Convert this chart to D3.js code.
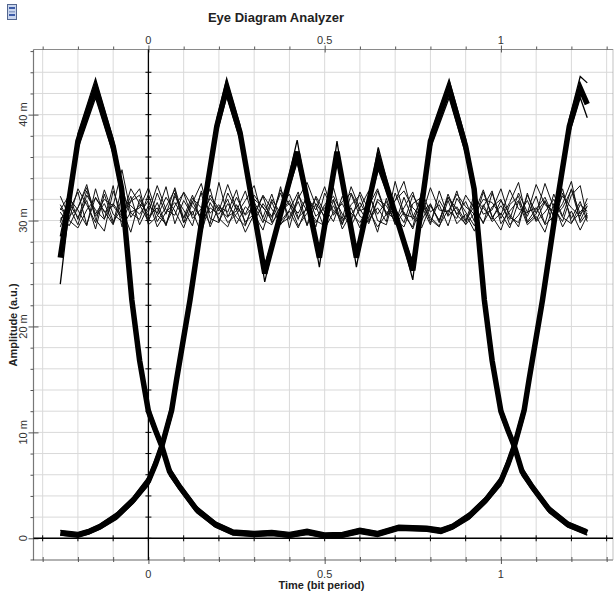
<!DOCTYPE html>
<html>
<head>
<meta charset="utf-8">
<title>Eye Diagram Analyzer</title>
<script src="https://d3js.org/d3.v7.min.js"></script>
<style>
    body { margin: 0; background: #fff; }
    svg { display: block; font-family: "Liberation Sans", Arial, sans-serif; }
    .axis path { display: none; }
    .axis line { stroke: #555; }
</style>
</head>
<body>
<svg id="chart" width="615" height="596"></svg>
<script>
// tick values and labels
const xTicks = [-0.3,-0.2,-0.1,0,0.1,0.2,0.3,0.4,0.5,0.6,0.7,0.8,0.9,1,1.1,1.2,1.3];
const xLabelVals = [0, 0.5, 1];
const xLabelText = ["0", "0.5", "1"];
const yTicks = [-2,0,2,4,6,8,10,12,14,16,18,20,22,24,26,28,30,32,34,36,38,40,42,44,46];
const yLabelVals = [0, 10, 20, 30, 40];
const yLabelText = ["0", "10 m", "20 m", "30 m", "40 m"];

// main eye traces (time in bit periods, amplitude in m a.u.)
const t1Time = [-0.25,-0.2,-0.17,-0.137,-0.09,-0.043,0,0.02,0.038,0.066,0.08,0.118,0.156,0.194,0.222,0.26,0.33,0.422,0.485,0.535,0.59,0.652,0.75,0.8,0.853,0.9,0.924,0.953,0.975,1.0,1.02,1.038,1.06,1.09,1.137,1.19,1.245];
const t1Amp  = [0.5,0.3,0.6,1.1,2.1,3.6,5.4,7.0,8.7,12.1,15,22.5,31,38.9,42.5,38.3,25,36.5,26.5,36.5,26.5,35.8,25.3,37.5,42.5,37,33,22.5,16.8,12,10.2,8.7,6.3,4.8,2.7,1.3,0.55];
const t1AmpB = [0.75,0.55,0.85,1.35,2.4,3.9,5.8,7.5,9.2,12.7,15.7,23.2,31.7,39.6,43.4,39.0,24.2,37.6,25.6,37.5,25.6,36.9,24.4,38.2,43.3,37.7,33.7,23.2,17.4,12.5,10.6,9.1,6.7,5.1,3.0,1.55,0.8];
const t1AmpC = [0.3,0.15,0.4,0.85,1.8,3.3,5.0,6.6,8.2,11.5,14.3,21.8,30.3,38.2,41.7,37.6,25.8,35.5,27.3,35.5,27.3,34.8,26.1,36.8,41.6,36.3,32.3,21.8,16.2,11.5,9.8,8.3,5.9,4.5,2.4,1.05,0.3];

const t2Time = [-0.25,-0.2,-0.15,-0.1,-0.076,-0.047,-0.025,0,0.02,0.038,0.06,0.09,0.137,0.19,0.24,0.3,0.35,0.4,0.45,0.5,0.55,0.6,0.65,0.71,0.79,0.83,0.863,0.91,0.957,1.0,1.02,1.038,1.066,1.08,1.118,1.156,1.194,1.225,1.245];
const t2Amp  = [26.5,37.5,42.5,37,33,22.5,16.8,12,10.2,8.7,6.3,4.8,2.7,1.3,0.55,0.4,0.5,0.3,0.6,0.25,0.3,0.7,0.4,1.0,0.9,0.7,1.1,2.1,3.6,5.4,7.0,8.7,12.1,15,22.5,31,38.9,42.5,41];
const t2AmpB = [24,38.2,43.4,37.7,33.7,23.2,17.4,12.5,10.6,9.1,6.7,5.1,3.0,1.55,0.8,0.65,0.75,0.55,0.85,0.5,0.55,0.95,0.65,1.25,1.15,0.95,1.35,2.4,3.9,5.8,7.5,9.2,12.7,15.7,23.2,31.7,39.6,43.6,43];
const t2AmpC = [28.5,36.8,41.6,36.3,32.3,21.8,16.2,11.5,9.8,8.3,5.9,4.5,2.4,1.05,0.3,0.15,0.25,0.1,0.35,0.05,0.1,0.45,0.15,0.75,0.65,0.45,0.85,1.8,3.3,5.0,6.6,8.2,11.5,14.3,21.8,30.3,38.2,41.6,39.7];

// sample times for the noisy middle-level traces
const noiseTime = [-0.25,-0.225,-0.2,-0.175,-0.15,-0.125,-0.1,-0.075,-0.05,-0.025,
    0,0.025,0.05,0.075,0.1,0.125,0.15,0.175,0.2,0.225,
    0.25,0.275,0.3,0.325,0.35,0.375,0.4,0.425,0.45,0.475,
    0.5,0.525,0.55,0.575,0.6,0.625,0.65,0.675,0.7,0.725,
    0.75,0.775,0.8,0.825,0.85,0.875,0.9,0.925,0.95,0.975,
    1,1.025,1.05,1.075,1.1,1.125,1.15,1.175,1.2,1.225,
    1.245];

const noise1 = [31.0,32.4,30.1,32.8,30.4,31.6,29.7,33.2,30.3,31.5,
    29.9,32.6,30.6,33.1,30.2,31.8,30.0,32.4,31.1,30.3,
    32.2,30.5,31.4,29.8,32.0,30.7,31.9,30.1,32.5,30.4,
    31.2,29.9,32.3,30.6,31.7,30.2,32.8,30.5,31.1,29.8,
    32.4,30.9,31.5,30.0,32.2,30.6,31.8,29.9,32.7,30.3,
    31.4,30.1,32.6,30.8,31.2,29.7,32.5,30.4,33.0,30.6,
    31.3];
const noise2 = [30.2,30.9,32.7,29.6,32.2,30.8,31.4,34.8,30.7,30.1,
    32.5,29.9,31.3,32.9,29.8,32.1,31.2,29.7,33.6,30.4,
    30.9,32.8,29.9,31.6,30.4,32.6,30.1,31.8,29.6,32.3,
    30.8,32.0,29.7,31.5,32.4,30.0,31.2,29.9,33.7,30.6,
    30.3,32.1,29.8,31.9,30.5,32.8,30.0,31.4,29.7,32.6,
    30.2,31.7,33.6,29.9,31.1,32.2,30.3,31.6,33.7,29.8,
    30.7];
const noise3 = [29.4,31.6,30.3,31.9,29.2,32.5,29.9,31.1,28.9,32.0,
    30.4,31.2,29.5,32.6,29.8,30.9,28.8,31.7,30.2,29.4,
    31.5,29.9,30.6,29.1,31.8,29.6,30.9,29.3,31.4,30.0,
    29.5,31.9,29.2,30.7,29.8,31.3,28.9,32.1,29.6,30.8,
    29.2,31.6,30.1,29.4,31.9,29.7,30.6,29.0,31.5,29.9,
    30.7,29.3,31.8,29.6,30.4,28.9,31.6,29.4,30.9,29.1,
    30.5];
const noise4 = [32.3,30.4,31.2,33.1,30.6,32.0,31.4,30.2,33.0,31.6,
    30.8,33.3,31.0,30.5,32.7,31.3,30.4,32.1,30.9,33.4,
    31.1,30.6,32.4,31.2,30.3,32.9,31.5,30.7,32.2,31.0,
    33.2,30.5,31.8,32.6,30.9,31.4,33.0,30.6,31.9,32.8,
    31.2,30.4,33.1,31.0,30.8,32.5,31.3,30.6,32.0,31.7,
    30.5,32.9,31.1,30.7,33.4,31.5,30.9,32.3,31.2,30.4,
    32.1];
const noise5 = [30.8,29.5,31.2,33.4,30.1,29.0,32.8,30.5,31.9,33.0,
    29.6,30.4,32.2,30.9,29.3,31.7,33.5,30.2,29.8,32.6,
    31.0,28.9,30.6,32.4,31.1,29.7,30.3,32.1,33.6,31.4,
    29.2,30.8,31.6,29.9,32.7,31.0,29.4,30.6,31.9,33.7,
    30.5,29.3,31.4,30.0,32.2,31.1,29.6,30.7,32.9,30.4,
    29.1,31.5,32.3,29.8,30.6,33.5,31.2,29.9,32.4,33.3,
    30.2];
const noise6 = [31.5,30.0,29.3,31.0,32.1,30.9,29.6,32.2,31.4,30.6,
    31.9,29.4,30.8,31.7,30.3,32.4,29.9,31.2,30.6,32.0,
    29.7,31.3,30.5,32.3,29.8,30.9,31.6,29.5,30.7,32.1,
    30.2,31.4,29.6,32.5,30.4,29.9,31.8,30.8,30.1,29.4,
    31.6,32.2,30.3,29.5,31.0,30.2,32.4,31.1,29.8,31.3,
    32.0,29.6,30.5,31.9,29.9,30.8,32.0,30.3,29.7,31.5,
    30.9];
const noise7 = [29.8,32.1,31.0,29.5,33.0,30.2,31.6,30.4,32.3,29.6,
    31.4,30.7,33.2,29.7,31.9,30.5,32.6,29.4,31.3,30.8,
    32.9,29.6,31.7,30.3,32.5,29.9,31.0,32.7,29.5,31.6,
    30.4,33.1,30.0,31.2,29.3,32.4,30.6,31.8,29.7,32.2,
    30.1,31.4,29.6,32.8,30.4,31.3,29.9,32.5,30.6,31.0,
    33.0,30.3,29.8,32.4,30.7,31.9,29.5,32.6,30.2,31.8,
    29.9];
const noise8 = [31.2,30.1,33.0,31.5,29.8,32.9,30.6,29.9,31.8,32.4,
    30.0,31.7,29.6,32.3,31.0,29.5,32.8,30.7,31.5,29.8,
    30.6,31.9,33.3,30.1,29.6,31.4,32.5,30.3,31.1,29.4,
    32.6,30.9,30.2,33.2,31.1,29.7,32.0,31.4,29.9,31.2,
    32.7,30.0,31.6,29.8,32.5,30.5,29.7,32.0,31.2,30.1,
    31.9,30.6,29.4,32.6,30.0,31.8,30.5,33.0,29.8,30.8,
    31.6];
const noise9 = [30.0,31.3,29.6,32.4,31.0,30.1,33.3,29.4,30.8,31.2,
    33.1,30.5,29.7,31.4,32.6,30.2,31.1,33.0,29.9,31.6,
    30.3,29.5,32.0,31.3,30.0,33.2,29.3,32.4,30.9,29.8,
    31.5,32.3,30.6,29.5,31.2,32.8,30.0,29.6,32.6,30.5,
    29.4,32.7,30.8,31.5,29.5,32.1,30.8,29.5,31.3,32.8,
    29.7,30.9,31.9,30.4,32.3,29.6,30.4,31.2,32.9,30.0,
    31.4];

const svg = d3.select("#chart");
const pLeft = 33.5, pRight = 613, pTop = 49.5, pBottom = 560;

const x = d3.scaleLinear().domain([-0.326, 1.318]).range([pLeft, pRight]);
const y = d3.scaleLinear().domain([-2.05, 46.15]).range([pBottom, pTop]);

const innerX = xTicks.filter(d => x(d) > pLeft + 2 && x(d) < pRight - 2);
const innerY = yTicks.filter(d => y(d) > pTop + 2 && y(d) < pBottom - 2);

// grid
svg.append("g").selectAll("line")
    .data(innerX)
    .enter().append("line")
    .attr("x1", d => x(d)).attr("x2", d => x(d))
    .attr("y1", pTop).attr("y2", pBottom)
    .attr("stroke", "#d9d9d9").attr("stroke-width", 1);
svg.append("g").selectAll("line")
    .data(innerY)
    .enter().append("line")
    .attr("x1", pLeft).attr("x2", pRight)
    .attr("y1", d => y(d)).attr("y2", d => y(d))
    .attr("stroke", "#d9d9d9").attr("stroke-width", 1);

// frame
svg.append("line").attr("x1", pLeft).attr("x2", pRight).attr("y1", pTop).attr("y2", pTop)
    .attr("stroke", "#8a8a8a").attr("stroke-width", 1.2);
svg.append("line").attr("x1", pLeft).attr("x2", pLeft).attr("y1", pTop).attr("y2", pBottom)
    .attr("stroke", "#777").attr("stroke-width", 1.2);
svg.append("line").attr("x1", pLeft).attr("x2", pRight).attr("y1", pBottom).attr("y2", pBottom)
    .attr("stroke", "#333").attr("stroke-width", 1.5).attr("stroke-dasharray", "1,1");
svg.append("line").attr("x1", pRight).attr("x2", pRight).attr("y1", pTop).attr("y2", pBottom)
    .attr("stroke", "#999").attr("stroke-width", 1.2).attr("stroke-dasharray", "1,1");

// axes
const isMajorX = d => xLabelVals.some(v => Math.abs(v - d) < 1e-9);
const isMajorY = d => yLabelVals.some(v => Math.abs(v - d) < 1e-9);

const topAxis = svg.append("g").attr("class", "axis")
    .attr("transform", `translate(0,${pTop})`)
    .call(d3.axisTop(x).tickValues(xTicks).tickSize(3).tickFormat(""));
topAxis.selectAll(".tick line").attr("y2", d => isMajorX(d) ? -4 : -3)
    .attr("y1", d => isMajorX(d) ? 3 : 0);

const bottomAxis = svg.append("g").attr("class", "axis")
    .attr("transform", `translate(0,${pBottom})`)
    .call(d3.axisBottom(x).tickValues(xTicks).tickSize(3).tickFormat(""));
bottomAxis.selectAll(".tick line").attr("y1", -3).attr("y2", d => isMajorX(d) ? 4 : 2);

const leftAxis = svg.append("g").attr("class", "axis")
    .attr("transform", `translate(${pLeft},0)`)
    .call(d3.axisLeft(y).tickValues(yTicks.filter(d => y(d) > pTop + 1)).tickSize(4).tickFormat(""));
leftAxis.selectAll(".tick line").attr("x2", d => isMajorY(d) ? -5 : -3)
    .attr("x1", d => isMajorY(d) ? 5 : 0);

// axis labels
svg.append("g").selectAll("text")
    .data(xLabelVals).enter().append("text")
    .attr("x", d => x(d)).attr("y", 44)
    .attr("text-anchor", "middle").attr("font-size", 11).attr("fill", "#333")
    .text((d, i) => xLabelText[i]);
svg.append("g").selectAll("text")
    .data(xLabelVals).enter().append("text")
    .attr("x", d => x(d)).attr("y", 577.5)
    .attr("text-anchor", "middle").attr("font-size", 11).attr("fill", "#333")
    .text((d, i) => xLabelText[i]);
svg.append("g").selectAll("text")
    .data(yLabelVals).enter().append("text")
    .attr("transform", d => `translate(26.5,${y(d)}) rotate(-90)`)
    .attr("text-anchor", "middle").attr("font-size", 11).attr("fill", "#333")
    .text((d, i) => yLabelText[i]);

svg.append("text").attr("x", 321.5).attr("y", 589)
    .attr("text-anchor", "middle").attr("font-size", 11).attr("font-weight", "bold").attr("fill", "#222")
    .text("Time (bit period)");
svg.append("text").attr("transform", "translate(17,325) rotate(-90)")
    .attr("text-anchor", "middle").attr("font-size", 11).attr("font-weight", "bold").attr("fill", "#222")
    .text("Amplitude (a.u.)");

svg.append("text").attr("x", 276).attr("y", 22)
    .attr("text-anchor", "middle").attr("font-size", 13).attr("font-weight", "bold").attr("fill", "#222")
    .text("Eye Diagram Analyzer");

// small window icon
const icon = svg.append("g").attr("transform", "translate(7,4)");
icon.append("rect").attr("x", 0.5).attr("y", 0.5).attr("width", 9).attr("height", 15)
    .attr("fill", "#c9d6ee").attr("stroke", "#53668f");
icon.append("rect").attr("x", 2).attr("y", 3).attr("width", 6).attr("height", 2).attr("fill", "#3d5ca8");
icon.append("rect").attr("x", 2).attr("y", 7).attr("width", 6).attr("height", 1.5).attr("fill", "#8da0c8");
icon.append("rect").attr("x", 2).attr("y", 10).attr("width", 6).attr("height", 2).attr("fill", "#3d5ca8");

// origin lines
svg.append("line").attr("x1", pLeft).attr("x2", pRight).attr("y1", y(0)).attr("y2", y(0))
    .attr("stroke", "#000").attr("stroke-width", 1.6);
svg.append("line").attr("x1", x(0)).attr("x2", x(0)).attr("y1", pTop).attr("y2", pBottom)
    .attr("stroke", "#000").attr("stroke-width", 1.3);
svg.append("g").selectAll("line")
    .data(innerY)
    .enter().append("line")
    .attr("x1", x(0) - 3).attr("x2", x(0) + 3)
    .attr("y1", d => y(d)).attr("y2", d => y(d))
    .attr("stroke", "#000").attr("stroke-width", 1);
svg.append("g").selectAll("line")
    .data(innerX)
    .enter().append("line")
    .attr("x1", d => x(d)).attr("x2", d => x(d))
    .attr("y1", y(0) - 3).attr("y2", y(0) + 3)
    .attr("stroke", "#000").attr("stroke-width", 1);

// traces
const line = d3.line().x(d => x(d[0])).y(d => y(d[1]));
const pairs = (ts, vs) => ts.map((t, i) => [t, vs[i]]);

const noiseSeries = [noise1, noise2, noise3, noise4, noise5, noise6, noise7, noise8, noise9];
svg.append("g").selectAll("path")
    .data(noiseSeries).enter().append("path")
    .attr("d", s => line(pairs(noiseTime, s)))
    .attr("fill", "none").attr("stroke", "#111").attr("stroke-width", 1)
    .attr("stroke-linejoin", "miter");

const mainSeries = [pairs(t1Time, t1Amp), pairs(t2Time, t2Amp)];
const hairSeries = [pairs(t1Time, t1AmpB), pairs(t1Time, t1AmpC), pairs(t2Time, t2AmpB), pairs(t2Time, t2AmpC)];
svg.append("g").selectAll("path")
    .data(mainSeries).enter().append("path")
    .attr("d", line)
    .attr("fill", "none").attr("stroke", "#000").attr("stroke-width", 5.5)
    .attr("stroke-linejoin", "miter");
svg.append("g").selectAll("path")
    .data(hairSeries).enter().append("path")
    .attr("d", line)
    .attr("fill", "none").attr("stroke", "#000").attr("stroke-width", 1.3)
    .attr("stroke-linejoin", "miter");
</script>
</body>
</html>
